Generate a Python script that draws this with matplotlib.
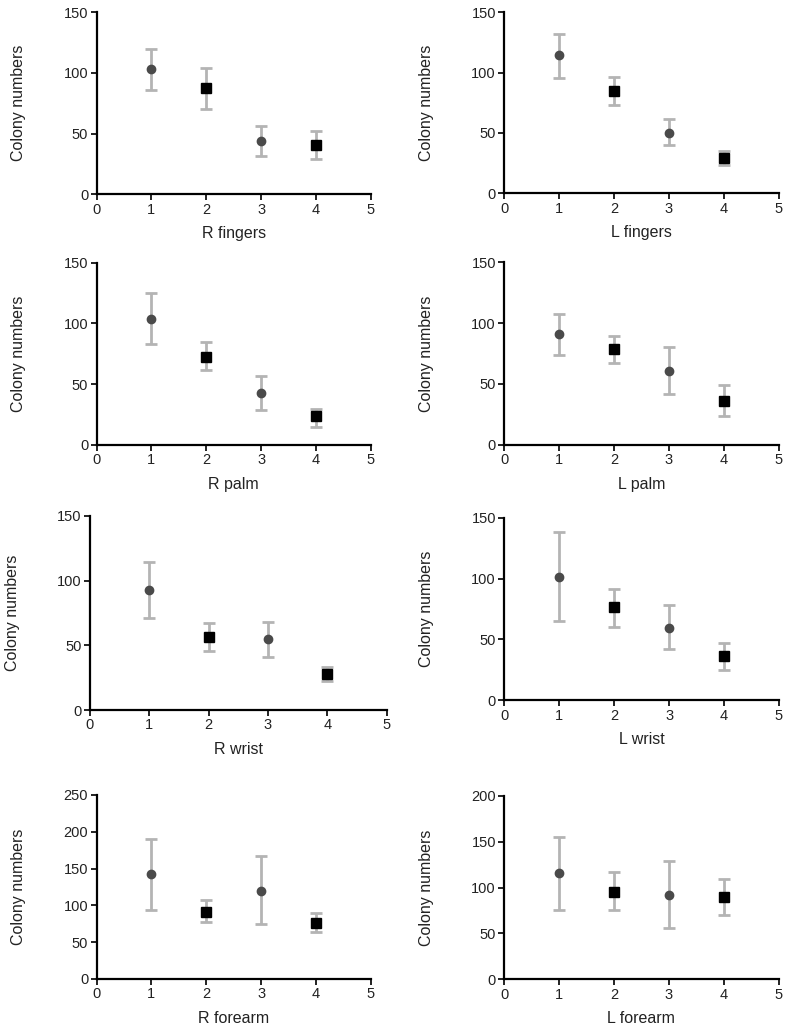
import matplotlib.pyplot as plt
import numpy as np

plt.rcParams['font.family'] = ['Liberation Sans', 'DejaVu Sans']

x = np.array([1, 2, 3, 4])

r_fingers = [103, 87.6, 44, 41]
r_fingers_lo = [86, 70, 31.6, 29]
r_fingers_hi = [120, 103.8, 56.6, 52.5]

l_fingers = [114.4, 84.5, 50, 29.3]
l_fingers_lo = [95.3, 73.5, 40, 23.2]
l_fingers_hi = [132, 96, 61.6, 35.4]

r_palm = [104, 72.7, 43, 23.6]
r_palm_lo = [83, 61.4, 28.8, 15]
r_palm_hi = [125, 84.5, 56.8, 29.3]

l_palm = [90.8, 79, 60.3, 36.2]
l_palm_lo = [74, 67.5, 41.4, 23.9]
l_palm_hi = [107.5, 89.7, 80.3, 49]

r_wrist = [92.5, 56.7, 54.9, 28]
r_wrist_lo = [71.4, 46, 41, 22.2]
r_wrist_hi = [114.4, 67, 68.3, 33.5]

l_wrist = [101.6, 76.6, 59.7, 36.1]
l_wrist_lo = [65, 60.5, 42, 25.2]
l_wrist_hi = [138, 91.7, 78, 46.8]

r_forearm = [142.4, 90.6, 119.6, 76]
r_forearm_lo = [94, 77.4, 74.3, 63.4]
r_forearm_hi = [190, 107.3, 167, 89.7]

l_forearm = [115.4, 95.5, 91.5, 90]
l_forearm_lo = [75.9, 75.9, 56.3, 69.7]
l_forearm_hi = [155.4, 116.9, 128.9, 109.6]

W, H = 785, 1027

# (label, mean, lo, hi, ymax, ystep, left, right, top, bottom, ylabel right edge) in pixels
panels = [
    ("R fingers", r_fingers, r_fingers_lo, r_fingers_hi, 150, 50, 96.5, 371, 12.3, 194.3, 26),
    ("L fingers", l_fingers, l_fingers_lo, l_fingers_hi, 150, 50, 504.3, 778.5, 12.3, 193.3, 434),
    ("R palm", r_palm, r_palm_lo, r_palm_hi, 150, 50, 96.5, 371, 262.7, 445, 26),
    ("L palm", l_palm, l_palm_lo, l_palm_hi, 150, 50, 504.3, 778.5, 262.3, 444.7, 434),
    ("R wrist", r_wrist, r_wrist_lo, r_wrist_hi, 150, 50, 90, 386.7, 516, 710, 20),
    ("L wrist", l_wrist, l_wrist_lo, l_wrist_hi, 150, 50, 504.3, 779, 517.7, 700.3, 434),
    ("R forearm", r_forearm, r_forearm_lo, r_forearm_hi, 250, 50, 96.5, 371, 795, 979, 26),
    ("L forearm", l_forearm, l_forearm_lo, l_forearm_hi, 200, 50, 504.3, 778.5, 795.7, 979.3, 434),
]

fig = plt.figure(figsize=(W / 100, H / 100), dpi=100)

for label, m, lo, hi, ymax, ystep, l, r, t, b, ylx in panels:
    ax = fig.add_axes([l / W, 1 - b / H, (r - l) / W, (b - t) / H])
    m = np.array(m)
    err = np.array([m - np.array(lo), np.array(hi) - m])
    circ = [0, 2]
    sq = [1, 3]
    ax.errorbar(x[circ], m[circ], yerr=err[:, circ], fmt='o', color='#4a4a4a',
                ecolor='#b4b4b4', elinewidth=2, capsize=4.5, capthick=2,
                markersize=6, zorder=3, clip_on=False)
    ax.errorbar(x[sq], m[sq], yerr=err[:, sq], fmt='s', color='black',
                ecolor='#b4b4b4', elinewidth=2, capsize=4.5, capthick=2,
                markersize=6.5, zorder=3, clip_on=False)
    ax.set_xlim(0, 5)
    ax.set_ylim(0, ymax)
    ax.set_xticks(np.arange(0, 6, 1))
    ax.set_yticks(np.arange(0, ymax + 1, ystep))
    for s in ['top', 'right']:
        ax.spines[s].set_visible(False)
    for s in ['left', 'bottom']:
        ax.spines[s].set_linewidth(1.6)
    ax.tick_params(direction='out', length=4, width=1.4, labelsize=10.5, pad=2,
                   colors='#222222')
    ax.set_xlabel(label, fontsize=11.5, color='#222222', labelpad=7)
    ax.set_ylabel("Colony numbers", fontsize=11.5, color='#222222')
    # ylabel anchor is its right edge after rotation
    ax.yaxis.set_label_coords((ylx - l) / (r - l), 0.5)

fig.savefig("out.png", dpi=100)
